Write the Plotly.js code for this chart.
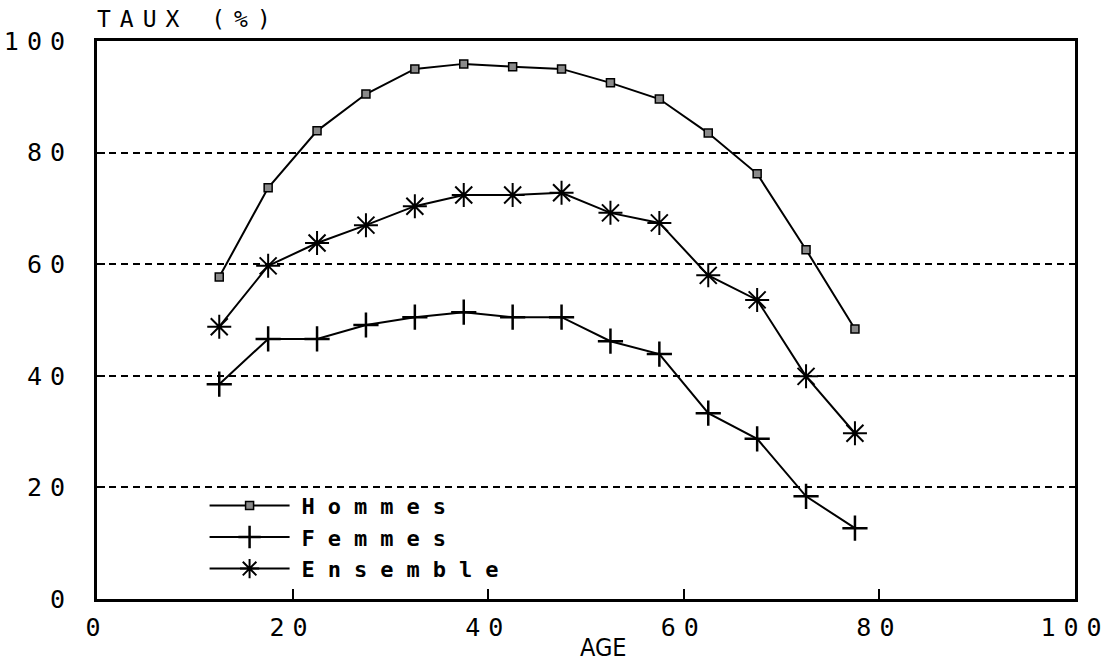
<!DOCTYPE html>
<html>
<head>
<meta charset="utf-8">
<script src="https://cdn.plot.ly/plotly-3.0.1.min.js"></script>
<style>
  html, body { margin: 0; padding: 0; background: #fff; }
  #chart { width: 1115px; height: 666px; }
  .ytick text, .xtick text { letter-spacing: 8px; }
  .legendtext { letter-spacing: 13px; }
  .gtitle { letter-spacing: 9px; }
</style>
</head>
<body>
<div id="chart"></div>
<script>
// Age group midpoints
const ages = [12.5, 17.5, 22.5, 27.5, 32.5, 37.5, 42.5, 47.5, 52.5, 57.5, 62.5, 67.5, 72.5, 77.5];
const hommes = [57.7, 73.7, 83.9, 90.5, 95.0, 95.9, 95.4, 95.0, 92.5, 89.6, 83.5, 76.2, 62.6, 48.4];
const femmes = [38.5, 46.6, 46.6, 49.1, 50.5, 51.4, 50.5, 50.5, 46.2, 43.9, 33.3, 28.7, 18.4, 12.7];
const ensemble = [48.8, 59.7, 63.8, 67.0, 70.4, 72.4, 72.4, 72.8, 69.2, 67.4, 58.0, 53.6, 39.9, 29.7];
const seriesNames = ["Hommes", "Femmes", "Ensemble"];
const xTicks = [0, 20, 40, 60, 80, 100];
const yTicks = [0, 20, 40, 60, 80, 100];
const yTitle = "TAUX (%)";
const xTitle = "AGE";

const mono = "DejaVu Sans Mono, Liberation Mono, monospace";

const traces = [
  {
    x: ages, y: hommes, name: seriesNames[0], type: "scatter", mode: "lines+markers",
    line: { color: "#000", width: 2 },
    marker: { symbol: "square", size: 8, color: "#8a8a8a", line: { color: "#000", width: 1.5 } }
  },
  {
    x: ages, y: femmes, name: seriesNames[1], type: "scatter", mode: "lines+markers",
    line: { color: "#000", width: 2 },
    marker: { symbol: "cross-thin-open", size: 18, color: "#000", line: { color: "#000", width: 2.5 } }
  },
  {
    x: ages, y: ensemble, name: seriesNames[2], type: "scatter", mode: "lines+markers",
    line: { color: "#000", width: 2 },
    marker: { symbol: "asterisk-open", size: 20, color: "#000", line: { color: "#000", width: 2 } }
  }
];

const layout = {
  width: 1115, height: 666,
  margin: { l: 97, r: 40, t: 41, b: 67, pad: 0 },
  paper_bgcolor: "#fff", plot_bgcolor: "#fff",
  title: {
    text: yTitle, xref: "container", yref: "container",
    x: 97 / 1115, xanchor: "left", y: 1 - 19 / 666, yanchor: "middle",
    font: { family: mono, size: 23, color: "#000" }
  },
  showlegend: true,
  legend: {
    x: 0.11, y: 0.205, xanchor: "left", yanchor: "top",
    bgcolor: "rgba(0,0,0,0)",
    font: { family: mono, size: 22, color: "#000", weight: "bold" },
    itemwidth: 87, tracegroupgap: 0
  },
  xaxis: {
    range: [0, 100], tickvals: xTicks, ticktext: xTicks.map(String),
    showgrid: false, zeroline: false,
    showline: true, linecolor: "#000", linewidth: 3, mirror: true,
    ticks: "inside", ticklen: 10, tickwidth: 2, tickcolor: "#000",
    ticklabelstandoff: 4,
    tickfont: { family: mono, size: 25, color: "#000" }
  },
  yaxis: {
    range: [0, 100], tickvals: yTicks, ticktext: yTicks.map(String),
    showgrid: true, gridcolor: "#000", gridwidth: 2, griddash: "7px,5px",
    zeroline: false,
    showline: true, linecolor: "#000", linewidth: 3, mirror: true,
    ticks: "inside", ticklen: 8, tickwidth: 2, tickcolor: "#000",
    ticklabelstandoff: 16,
    tickfont: { family: mono, size: 25, color: "#000" }
  },
  annotations: [
    {
      text: xTitle, xref: "paper", yref: "paper", x: 0.518, y: 0, xanchor: "center", yanchor: "middle",
      yshift: -48, showarrow: false,
      font: { family: "DejaVu Sans Condensed, DejaVu Sans, sans-serif", size: 25, color: "#000" }
    }
  ]
};

Plotly.newPlot("chart", traces, layout, { displayModeBar: false, staticPlot: true }).then(function (gd) {
  // lengthen legend sample lines to span up to the text
  const items = gd.querySelectorAll(".legend .traces");
  items.forEach(function (it) {
    const txt = it.querySelector("text.legendtext");
    const tx = txt ? parseFloat(txt.getAttribute("x")) : 40;
    const end = tx - 12;
    const start = 5;
    it.querySelectorAll(".legendlines path").forEach(function (p) {
      p.setAttribute("d", "M" + start + ",0h" + (end - start));
    });
    const mid = (start + end) / 2;
    it.querySelectorAll(".legendsymbols path.scatterpts").forEach(function (p) {
      p.setAttribute("transform", "translate(" + mid + ",0)");
    });
  });
});
</script>
</body>
</html>
